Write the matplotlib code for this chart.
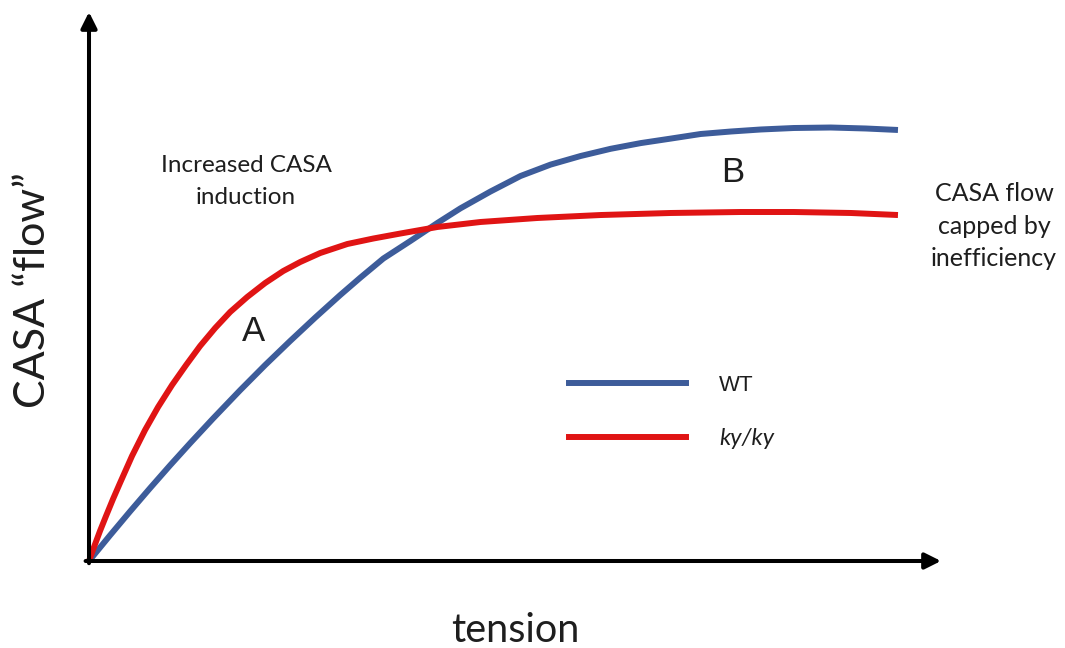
import matplotlib
matplotlib.use("Agg")
import matplotlib.pyplot as plt
from matplotlib.lines import Line2D

# Conceptual curves (tension vs. CASA flow, arbitrary units 0-100)
wt_tension = [0, 2.47, 4.82, 7.17, 9.52, 11.87, 14.57, 17.74, 20.68, 23.62,
              26.56, 29.49, 31.84, 34.55, 37.72, 40.89, 43.60, 47.12, 50.65,
              54.17, 57.70, 61.22, 64.75, 68.27, 71.80, 75.32, 78.85, 82.73,
              87.07, 91.19, 94.95]
wt_flow = [0, 4.68, 9.03, 13.28, 17.43, 21.46, 25.97, 31.11, 35.70, 40.09,
           44.35, 48.45, 51.60, 55.10, 58.29, 61.57, 64.24, 67.30, 70.13,
           72.20, 73.77, 75.08, 76.12, 76.94, 77.78, 78.23, 78.60, 78.87,
           78.96, 78.78, 78.51]

ky_tension = [0, 0.59, 1.29, 2.00, 2.82, 3.64, 5.05, 6.58, 8.11, 9.75, 11.40,
              13.04, 14.81, 16.57, 18.57, 20.68, 22.80, 24.79, 27.14, 30.32,
              33.37, 36.55, 40.89, 45.95, 52.64, 60.05, 68.27, 76.50, 82.73,
              89.42, 94.95]
ky_flow = [0, 2.55, 5.46, 8.20, 11.29, 14.21, 19.13, 23.86, 28.05, 32.06,
           35.70, 39.16, 42.44, 45.36, 48.09, 50.64, 52.82, 54.46, 56.10,
           57.74, 58.74, 59.65, 60.84, 61.75, 62.48, 63.02, 63.39, 63.57,
           63.57, 63.39, 63.02]

series_labels = ["WT", "ky/ky"]
series_colors = ["#3D5C9A", "#E01414"]

W, H = 1065, 648
fig = plt.figure(figsize=(W / 100, H / 100), dpi=100)


def fx(x):
    return x / W


def fy(y):
    return 1 - y / H


ox, oy = 89, 561          # origin in pixels
tx, ty = 941, 12          # arrow tips
ax = fig.add_axes([fx(ox), fy(oy), (tx - ox) / W, (oy - ty) / H])
ax.set_xlim(0, 100)
ax.set_ylim(0, 100)
ax.axis("off")

lw_curve = 4.3
for xs, ys, c in [(wt_tension, wt_flow, series_colors[0]),
                  (ky_tension, ky_flow, series_colors[1])]:
    ax.plot(xs, ys, color=c, lw=lw_curve, solid_capstyle="butt",
            solid_joinstyle="round", clip_on=False)

# Axis arrows
arrow_kw = dict(arrowstyle="-|>,head_length=0.6,head_width=0.3",
                lw=2.9, color="black", shrinkA=0, shrinkB=0,
                mutation_scale=16)
ax.annotate("", xy=(1, 0), xytext=(-0.004, 0), xycoords="axes fraction",
            arrowprops=arrow_kw)
ax.annotate("", xy=(0, 1), xytext=(0, -0.004), xycoords="axes fraction",
            arrowprops=arrow_kw)

body = "Lato"
ink = "#1e1e1e"

# Legend
handles = [Line2D([0], [0], color=c, lw=4.3) for c in series_colors]
leg = ax.legend(handles, series_labels, loc="upper left",
                bbox_to_anchor=(fx(569), fy(375)), bbox_transform=fig.transFigure,
                frameon=False, handlelength=5.27, handletextpad=1.49,
                labelspacing=1.45, borderpad=0, borderaxespad=0,
                prop=dict(family="Liberation Sans", size=16))
for t in leg.get_texts():
    t.set_color(ink)
leg.get_texts()[1].set_fontstyle("italic")
leg.get_texts()[1].set_family("Lato")
leg.get_texts()[1].set_fontsize(17)

# Annotations
fig.text(fx(246), fy(181.5), "Increased CASA\ninduction", ha="center",
         va="center", family=body, fontsize=17.5, color=ink, linespacing=1.65)
fig.text(fx(994), fy(226.5), "CASA flow\ncapped by\ninefficiency", ha="center",
         va="center", family=body, fontsize=18, color=ink, linespacing=1.5)
fig.text(fx(253), fy(331), "A", ha="center", va="center",
         family="Liberation Sans", fontsize=25, color=ink)
fig.text(fx(733), fy(172), "B", ha="center", va="center",
         family="Liberation Sans", fontsize=25, color=ink)

# Axis titles
fig.text(fx(515), fy(631), "tension", ha="center", va="center",
         family=body, fontsize=28.5, color=ink)
fig.text(fx(33), fy(290), "CASA \u201cflow\u201d", ha="center", va="center",
         rotation=90, family=body, fontsize=31, color=ink)

fig.savefig("out.png", dpi=100, facecolor="white")
